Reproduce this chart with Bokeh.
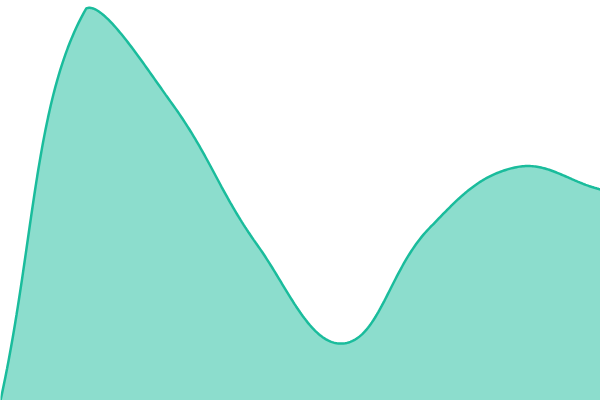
import numpy as np
from bokeh.plotting import figure
from bokeh.models import Range1d
from bokeh.embed import file_html
from bokeh.resources import INLINE

# data
labels = ["1", "2", "3", "4", "5", "6", "7", "8"]
values = [0, 392, 297, 155, 57, 172, 233, 211]

Y_MIN, Y_MAX = 0, 400
W, H = 600, 400
TENSION = 0.4

n = len(values)
xs = np.arange(n, dtype=float)
ys = np.array(values, dtype=float)

# work in pixel-proportional units for spline control points (Chart.js style)
sx = W / (n - 1)
sy = H / (Y_MAX - Y_MIN)
px = xs * sx
py = (ys - Y_MIN) * sy

cp_prev = []
cp_next = []
for i in range(n):
    p0 = (px[max(i - 1, 0)], py[max(i - 1, 0)])
    p1 = (px[i], py[i])
    p2 = (px[min(i + 1, n - 1)], py[min(i + 1, n - 1)])
    d01 = np.hypot(p1[0] - p0[0], p1[1] - p0[1])
    d12 = np.hypot(p2[0] - p1[0], p2[1] - p1[1])
    tot = d01 + d12
    s01 = d01 / tot if tot else 0
    s12 = d12 / tot if tot else 0
    fa = TENSION * s01
    fb = TENSION * s12
    cpx0 = p1[0] - fa * (p2[0] - p0[0])
    cpy0 = p1[1] - fa * (p2[1] - p0[1])
    cpx1 = p1[0] + fb * (p2[0] - p0[0])
    cpy1 = p1[1] + fb * (p2[1] - p0[1])
    # cap to chart area
    cpx0 = min(max(cpx0, 0), W); cpx1 = min(max(cpx1, 0), W)
    cpy0 = min(max(cpy0, 0), H); cpy1 = min(max(cpy1, 0), H)
    cp_prev.append((cpx0, cpy0))
    cp_next.append((cpx1, cpy1))

cx, cy = [], []
t = np.linspace(0, 1, 60)
for i in range(n - 1):
    P0 = np.array([px[i], py[i]])
    P1 = np.array(cp_next[i])
    P2 = np.array(cp_prev[i + 1])
    P3 = np.array([px[i + 1], py[i + 1]])
    pts = ((1 - t)[:, None] ** 3 * P0 + 3 * ((1 - t) ** 2 * t)[:, None] * P1
           + 3 * ((1 - t) * t ** 2)[:, None] * P2 + (t ** 3)[:, None] * P3)
    if i > 0:
        pts = pts[1:]
    cx.extend(pts[:, 0] / sx)
    cy.extend(pts[:, 1] / sy + Y_MIN)

p = figure(width=W, height=H, output_backend="svg", toolbar_location=None,
           x_range=Range1d(0, n - 1), y_range=Range1d(Y_MIN, Y_MAX),
           min_border=0)
p.axis.visible = False
p.grid.visible = False
p.outline_line_color = None
p.background_fill_color = "white"
p.border_fill_color = "white"

fx = [cx[0]] + cx + [cx[-1]]
fy = [Y_MIN] + cy + [Y_MIN]
p.patch(fx, fy, fill_color="#1abc9c", fill_alpha=0.5, line_alpha=0)
p.line(cx, cy, line_color="#1abc9c", line_width=2.5)

open("out.html", "w").write(file_html(p, INLINE))
